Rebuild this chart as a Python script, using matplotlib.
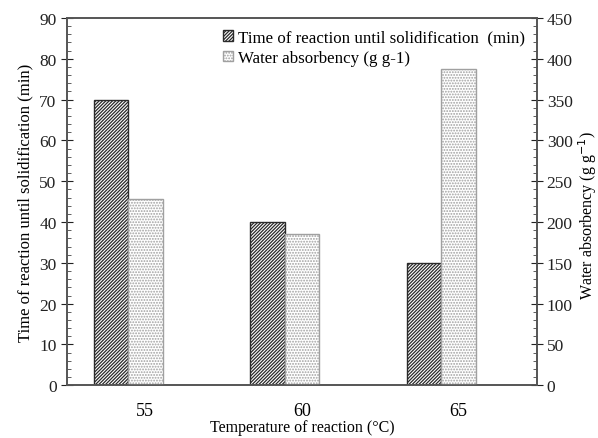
import numpy as np
import matplotlib.pyplot as plt
from matplotlib.ticker import MultipleLocator

plt.rcParams['font.family'] = ['Liberation Serif', 'DejaVu Serif']
plt.rcParams['hatch.linewidth'] = 0.9

# data
temps = ['55', '60', '65']
time_min = [70, 40, 30]
absorbency = [228, 185, 387]

x = np.arange(len(temps))
w = 0.22

fig, ax = plt.subplots(figsize=(5.98, 4.39), dpi=100)
fig.subplots_adjust(left=0.112, right=0.898, top=0.957, bottom=0.12)
ax2 = ax.twinx()

b1 = ax.bar(x - w, time_min, w, color='white', edgecolor='#2a2a2a',
            hatch='//////////', linewidth=1.0, label='Time of reaction until solidification  (min)')
b2 = ax2.bar(x, absorbency, w, color='white', edgecolor='#a0a0a0',
             hatch='......', linewidth=1.0, label='Water absorbency (g g-1)')

ax.set_xlim(-0.5, 2.5)
ax.set_ylim(0, 90)
ax2.set_ylim(0, 450)
ax.set_xticks(x)
ax.set_xticklabels(temps, fontsize=13)
ax.tick_params(axis='x', length=0, pad=12)

ax.yaxis.set_major_locator(MultipleLocator(10))
ax.yaxis.set_minor_locator(MultipleLocator(2))
ax2.yaxis.set_major_locator(MultipleLocator(50))
ax2.yaxis.set_minor_locator(MultipleLocator(10))
for a in (ax, ax2):
    a.tick_params(axis='y', which='major', direction='inout', length=8, width=0.8,
                  labelsize=12.5, colors='#222222')
    a.tick_params(axis='y', which='minor', direction='in', length=3, width=0.6, colors='#444444')
    for s in a.spines.values():
        s.set_color('#555555')
        s.set_linewidth(1.2)
ax2.tick_params(axis='y', which='major', pad=3)

ax.set_ylabel('Time of reaction until solidification (min)', fontsize=12)
fig.text(0.982, 0.51, 'Water absorbency (g g$^{-1}$)', fontsize=11.5,
         rotation=90, ha='center', va='center')
ax.set_xlabel('Temperature of reaction (°C)', fontsize=11.5, labelpad=0)

ax2.legend([b1, b2], [b1.get_label(), b2.get_label()], loc='upper right',
           frameon=False, fontsize=12.2, handlelength=0.6, handleheight=0.6,
           handletextpad=0.3, labelspacing=0.25, borderaxespad=0.3)

plt.savefig('out.png')
